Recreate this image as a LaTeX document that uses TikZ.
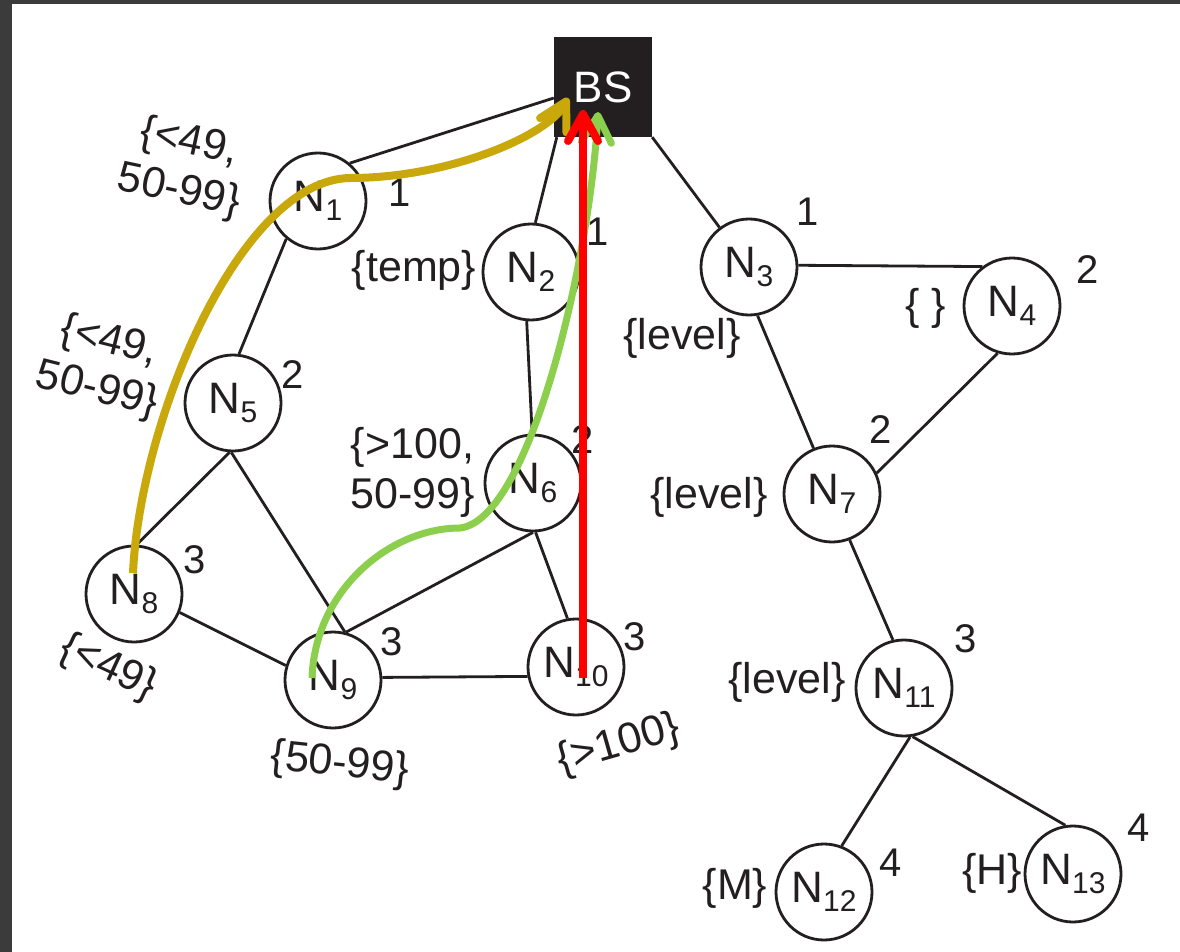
\documentclass[tikz,border=0pt]{standalone}
\usepackage{fontspec}
\setmainfont{Liberation Sans}
\usetikzlibrary{arrows.meta}
\definecolor{ink}{HTML}{231F20}
\definecolor{bandgray}{HTML}{3B3B3B}
\definecolor{ypath}{HTML}{C8A80A}
\definecolor{gpath}{HTML}{8CCF4D}
\definecolor{rpath}{HTML}{FF0000}
% sensor label: N with a lowered index
\newcommand\nlab[1]{N\raisebox{-9pt}{\fontsize{30}{30}\selectfont #1}}

\begin{document}
\begin{tikzpicture}[x=1pt,y=-1pt,
  sensor/.style={circle, draw=ink, line width=2.8pt, minimum size=96pt, inner sep=0pt,
                 text=ink, font=\fontsize{44}{50}\selectfont},
  base/.style={rectangle, fill=ink, minimum width=98pt, minimum height=100pt, inner sep=0pt,
               text=white, font=\fontsize{44}{50}\selectfont},
  attr/.style={inner sep=0pt, text=ink, font=\fontsize{43}{50}\selectfont, align=center},
  hop/.style={inner sep=0pt, text=ink, font=\fontsize{40}{48}\selectfont},
  link/.style={draw=ink, line width=2.8pt},
  route/.style={line width=8pt, -{Straight Barb[length=27pt,width=30pt,round]}}
]
% page and dark window frame
\useasboundingbox (0,0) rectangle (1180,952);
\fill[white] (0,0) rectangle (1180,952);
\fill[bandgray] (0,0) rectangle (1180,4);
\fill[bandgray] (0,0) rectangle (12,952);

% base station and sensors
\node[base] (BS) at (603,87) {BS};
\node[sensor] (N1)  at (318,201) {\nlab{1}};
\node[sensor] (N2)  at (531,272) {\nlab{2}};
\node[sensor] (N3)  at (749,267) {\nlab{3}};
\node[sensor] (N4)  at (1012,306) {\nlab{4}};
\node[sensor] (N5)  at (233,403) {\nlab{5}};
\node[sensor] (N6)  at (533,483) {\nlab{6}};
\node[sensor] (N7)  at (832,494) {\nlab{7}};
\node[sensor] (N8)  at (134,594) {\nlab{8}};
\node[sensor] (N9)  at (333,680) {\nlab{9}};
\node[sensor] (N10) at (576,667) {\nlab{10}};
\node[sensor] (N11) at (904,688) {\nlab{11}};
\node[sensor] (N12) at (824,892) {\nlab{12}};
\node[sensor] (N13) at (1073,874) {\nlab{13}};

% links
\draw[link] (N1.50) -- ([yshift=-11pt]BS.west);
\draw[link] ([xshift=3pt]BS.south west) -- (N2.85);
\draw[link] (BS.south east) -- (N3);
\draw[link] (N1.230) -- (N5.83);
\draw[link] (N2.265) -- (N6.91);
\draw[link] (N3.2) -- (N4.127);
\draw[link] (N3.280) -- (N7.112);
\draw[link] (N4.253) -- (N7.25);
\draw[link] (N7.291) -- (N11.103);
\draw[link] (N11.277) -- (N12.69);
\draw[link] (N11.280) -- (N13.99);
\draw[link] (N5.266) -- (N8.87);
\draw[link] (N5.268) -- (N9.76);
\draw[link] (N8.338) -- (N9.163);
\draw[link] (N9.75) -- (N6.270);
\draw[link] (N6.273) -- (N10.100);
\draw[link] (N9.3) -- (N10.191);

% hop counts
\node[hop] (h1)  at (400,193) {1};
\node[hop] (h2)  at (598,232) {1};
\node[hop] (h3)  at (808,212) {1};
\node[hop] (h4)  at (1088,270) {2};
\node[hop] (h5)  at (293,375) {2};
\node[hop] (h6)  at (583,440) {2};
\node[hop] (h7)  at (881,430) {2};
\node[hop] (h8)  at (195,560) {3};
\node[hop] (h9)  at (392,642) {3};
\node[hop] (h10) at (635,637) {3};
\node[hop] (h11) at (966,639) {3};
\node[hop] (h12) at (891,863) {4};
\node[hop] (h13) at (1139,828) {4};

% attribute sets
\node[attr, rotate=-12] (a1)  at (184,167) {\{<49,\\50-99\}};
\node[attr, rotate=-14] (a5)  at (103,366) {\{<49,\\50-99\}};
\node[attr] (a2)  at (414,270) {\{temp\}};
\node[attr, align=left] (a6) at (413,472) {\{>100,\\50-99\}};
\node[attr] (a3)  at (682,338) {\{level\}};
\node[attr] (a4)  at (926,308) {\{ \}};
\node[attr] (a7)  at (709,497) {\{level\}};
\node[attr] (a11) at (787,682) {\{level\}};
\node[attr] (a12) at (735,888) {\{M\}};
\node[attr] (a13) at (992,873) {\{H\}};
\node[attr, rotate=-25] (a8)  at (108,668) {\{<49\}};
\node[attr, rotate=-6]  (a9)  at (340,765) {\{50-99\}};
\node[attr, rotate=16]  (a10) at (619,745) {\{>100\}};

% query routes towards the base station
\coordinate (y0) at ([xshift=-1pt,yshift=21pt]N8.center);
\coordinate (yt) at (568,98);
\coordinate (g0) at ([xshift=-21pt,yshift=2pt]N9.center);
\coordinate (gt) at (598,112);
\coordinate (r0) at ([xshift=7pt,yshift=-11pt]N10.center);
\coordinate (rt) at (583,110);

\draw[route, draw=ypath] (y0) .. controls (140,420) and (240,180) .. (350,178)
                          .. controls (450,178) and (548,135) .. (yt);
\draw[route, draw=gpath, line width=7pt] (g0) .. controls (315,590) and (390,528) .. (460,528)
                          .. controls (530,520) and (590,260) .. (gt);
\draw[route, draw=rpath] (r0) -- (rt);
\end{tikzpicture}
\end{document}
